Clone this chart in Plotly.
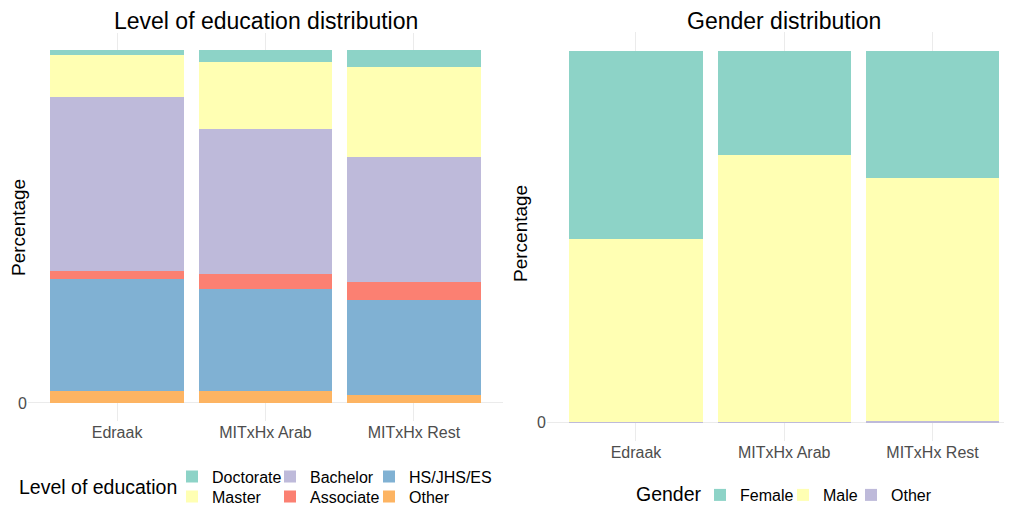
import plotly.graph_objects as go

# ---------------- data ----------------
groups = ["Edraak", "MITxHx Arab", "MITxHx Rest"]

# Level of education (percent of learners), stacked bottom -> top
edu_levels = ["Other", "HS/JHS/ES", "Associate", "Bachelor", "Master", "Doctorate"]
edu_other = [3.3, 3.3, 2.3]
edu_hs = [31.8, 28.9, 26.8]
edu_associate = [2.4, 4.4, 5.2]
edu_bachelor = [49.4, 41.1, 35.4]
edu_master = [11.8, 19.1, 25.6]
edu_doctorate = [1.3, 3.2, 4.7]

# Gender (percent of learners), stacked bottom -> top
gender_levels = ["Other", "Male", "Female"]
gender_other = [0.3, 0.2, 0.5]
gender_male = [49.1, 71.8, 65.3]
gender_female = [50.6, 28.0, 34.2]

y_tick_vals = [0]
y_tick_text = ["0"]

# ---------------- styling ----------------
FONT = "Liberation Sans, Arial, sans-serif"
PAGE_MARGIN = 8          # default body margin of the html page
W, H = 996, 498          # figure size that fits inside the 1012x514 window
edu_colors = {"Doctorate": "#8DD3C7", "Master": "#FFFFB3", "Bachelor": "#BEBADA",
              "Associate": "#FB8072", "HS/JHS/ES": "#80B1D3", "Other": "#FDB462"}
gender_colors = {"Female": "#8DD3C7", "Male": "#FFFFB3", "Other": "#BEBADA"}

edu_values = {"Other": edu_other, "HS/JHS/ES": edu_hs, "Associate": edu_associate,
              "Bachelor": edu_bachelor, "Master": edu_master, "Doctorate": edu_doctorate}
gender_values = {"Other": gender_other, "Male": gender_male, "Female": gender_female}

ROW1, ROW2 = 476.5, 496.5
GEN_ROW = 495
# legend id and (left px, centre px) for every key, laid out like the ggplot guides
edu_legend = {"Doctorate": ("legend", 172, ROW1), "Master": ("legend2", 172, ROW2),
              "Bachelor": ("legend3", 270, ROW1), "Associate": ("legend4", 270, ROW2),
              "HS/JHS/ES": ("legend5", 369, ROW1), "Other": ("legend6", 369, ROW2)}
gender_legend = {"Female": ("legend7", 700, GEN_ROW), "Male": ("legend8", 783, GEN_ROW),
                 "Other": ("legend9", 851, GEN_ROW)}


def px_x(v):
    return (v - PAGE_MARGIN) / W


def px_y(v):
    return 1 - (v - PAGE_MARGIN) / H


fig = go.Figure()
for lvl in edu_levels:
    fig.add_trace(go.Bar(x=groups, y=edu_values[lvl], name=lvl, showlegend=True,
                         marker=dict(color=edu_colors[lvl], line=dict(width=0)),
                         xaxis="x", yaxis="y", legend=edu_legend[lvl][0]))
for g in gender_levels:
    fig.add_trace(go.Bar(x=groups, y=gender_values[g], name=g, showlegend=True,
                         marker=dict(color=gender_colors[g], line=dict(width=0)),
                         xaxis="x2", yaxis="y2", legend=gender_legend[g][0]))

axis_common = dict(showline=False, ticks="", zeroline=False, automargin=False,
                   gridcolor="#EBEBEB", gridwidth=1, showgrid=True,
                   tickfont=dict(family=FONT, size=16, color="#4D4D4D"))

legend_common = dict(font=dict(family=FONT, size=16, color="#000000"),
                     bgcolor="rgba(0,0,0,0)", borderwidth=0,
                     orientation="v", xanchor="left", yanchor="middle")

right_px_per_cat = 148.28
right_left_px, right_right_px = 547, PAGE_MARGIN + W
right_range_max = -0.6 + (right_right_px - right_left_px) / right_px_per_cat

legends = {}
for lid, lx, ly in list(edu_legend.values()) + list(gender_legend.values()):
    legends[lid] = dict(x=px_x(lx), y=px_y(ly), **legend_common)

fig.update_layout(
    width=W, height=H,
    margin=dict(l=0, r=0, t=0, b=0, autoexpand=False),
    paper_bgcolor="white", plot_bgcolor="white",
    barmode="stack", bargap=0.1,
    showlegend=True,
    font=dict(family=FONT),
    xaxis=dict(domain=[px_x(28), px_x(503)], type="category", range=[-0.6, 2.6],
               anchor="y", **axis_common),
    yaxis=dict(domain=[px_y(420.6), px_y(32.7)], range=[-5, 105], anchor="x",
               tickvals=y_tick_vals, ticktext=y_tick_text, **axis_common),
    xaxis2=dict(domain=[px_x(right_left_px), 1.0], type="category",
                range=[-0.6, right_range_max], anchor="y2", **axis_common),
    yaxis2=dict(domain=[px_y(441.3), px_y(32.4)], range=[-5, 105], anchor="x2",
                tickvals=y_tick_vals, ticktext=y_tick_text, **axis_common),
    **legends,
)

annotations = [
    dict(text="Level of education distribution", x=px_x(265.5), y=px_y(20.5),
         height=25, font=dict(size=23, color="#000000")),
    dict(text="Gender distribution", x=px_x(784), y=px_y(20.5),
         height=25, font=dict(size=23, color="#000000")),
    dict(text="Percentage", x=px_x(19), y=px_y(228), textangle=-90,
         font=dict(size=19, color="#000000")),
    dict(text="Percentage", x=px_x(520), y=px_y(233), textangle=-90,
         font=dict(size=19, color="#000000")),
    dict(text="Level of education", x=px_x(17), y=px_y((ROW1 + ROW2) / 2), xanchor="left",
         font=dict(size=19.5, color="#000000")),
    dict(text="Gender", x=px_x(633.5), y=px_y(494), xanchor="left",
         font=dict(size=19.5, color="#000000")),
]
for a in annotations:
    a.setdefault("xanchor", "center")
    a.update(xref="paper", yref="paper", yanchor="middle", showarrow=False)
    a["font"]["family"] = FONT
fig.update_layout(annotations=annotations)

fig.write_html("out.html")
